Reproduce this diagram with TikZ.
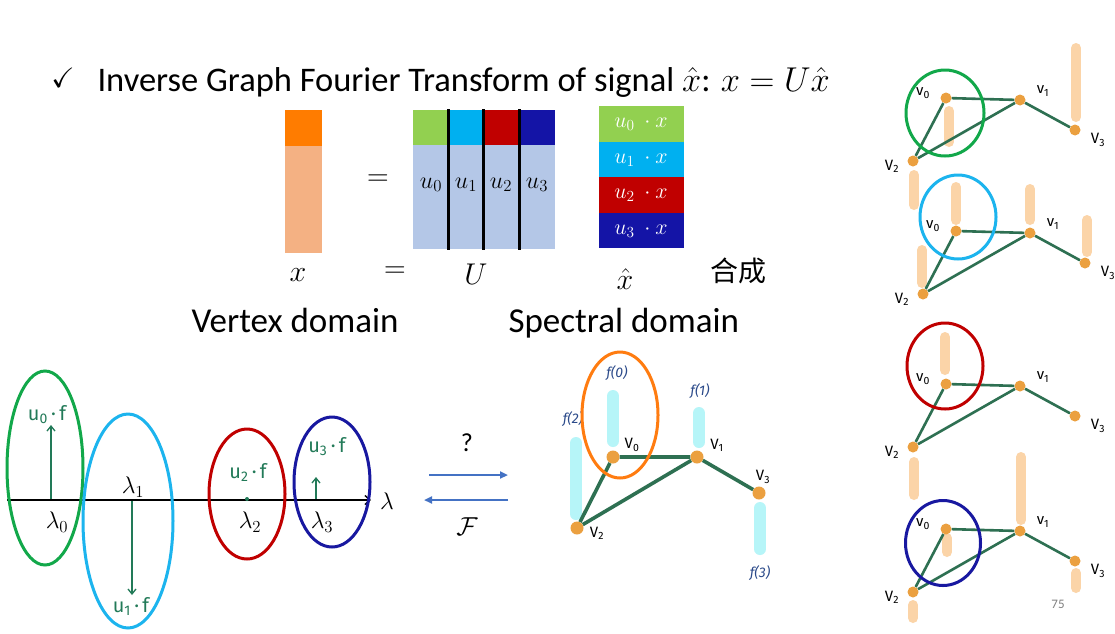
\RequirePackage{fix-cm}
\documentclass[tikz,border=0pt]{standalone}
\usepackage{fontspec}
\usepackage{amssymb}
\setmainfont{Carlito}
\newfontfamily\cjkfont{Noto Sans CJK SC}
\newfontfamily\handfont{Fira Sans}
\usetikzlibrary{arrows.meta}

\definecolor{xorange}{HTML}{FF7C00}
\definecolor{xpeach}{HTML}{F4B183}
\definecolor{ubody}{HTML}{B4C7E7}
\definecolor{cgreen}{HTML}{92D050}
\definecolor{ccyan}{HTML}{00B0F0}
\definecolor{cred}{HTML}{C00000}
\definecolor{cblue}{HTML}{1414A6}
\definecolor{ringgreen}{HTML}{12A84A}
\definecolor{ringcyan}{HTML}{1CB4EE}
\definecolor{ringred}{HTML}{C00000}
\definecolor{ringblue}{HTML}{1818A0}
\definecolor{ringorange}{HTML}{FF7C10}
\definecolor{hand}{HTML}{227A58}
\definecolor{edgegreen}{HTML}{2E7052}
\definecolor{dotorange}{HTML}{EBA040}
\definecolor{barcyan}{HTML}{B6F5F8}
\definecolor{barpeach}{HTML}{FBD4A8}
\definecolor{fblue}{HTML}{2B4A8A}
\definecolor{arrowblue}{HTML}{4472C4}

\pgfdeclarelayer{background}
\pgfsetlayers{background,main}

\tikzset{
  cell/.style={text=white, font=\fontsize{22}{22}\selectfont},
  ulabel/.style={font=\fontsize{24}{24}\selectfont},
  mathlbl/.style={font=\fontsize{30}{30}\selectfont},
  caption/.style={font=\fontsize{35}{35}\selectfont, anchor=base west},
  ring/.style={line width=3pt},
  handlbl/.style={text=hand, font=\handfont\fontsize{20}{20}\selectfont},
  lamlbl/.style={font=\fontsize{24}{24}\selectfont},
  spike/.style={hand, line width=1.3pt, -{Straight Barb[length=5pt,width=8pt]}},
  mdot/.style={circle, fill=dotorange, minimum size=13pt, inner sep=0pt},
  rdot/.style={circle, fill=dotorange, minimum size=11pt, inner sep=0pt},
  medge/.style={edgegreen, line width=3.6pt},
  redge/.style={edgegreen, line width=2.6pt},
  mbar/.style={barcyan, line width=12pt, line cap=round},
  rbar/.style={barpeach, line width=10pt, line cap=round},
  vlbl/.style={font=\handfont\fontsize{15}{15}\selectfont},
  flbl/.style={text=fblue, font=\handfont\itshape\fontsize{14}{14}\selectfont},
  fourier/.style={arrowblue, line width=2pt, -{Triangle[length=8pt,width=7pt]}},
}

% one small vertex graph: #1 name prefix, (#2,#3) position of v0
\newcommand{\vgraph}[3]{%
  \begin{scope}[shift={(#2,#3)}]
    \node[rdot] (#1v0) at (0,0) {};
    \node[rdot] (#1v1) at (74,2) {};
    \node[rdot] (#1v3) at (129,32) {};
    \node[rdot] (#1v2) at (-33,63) {};
    \begin{pgfonlayer}{background}
      \draw[redge] (#1v0) -- (#1v1) (#1v0) -- (#1v2)
                   (#1v1) -- (#1v2) (#1v1) -- (#1v3);
    \end{pgfonlayer}
    \node[vlbl] (#1l0) at (-23,-5) {v\textsubscript{0}};
    \node[vlbl] (#1l1) at (97,-7) {v\textsubscript{1}};
    \node[vlbl] (#1l3) at (152,42) {V\textsubscript{3}};
    \node[vlbl] (#1l2) at (-54,68) {V\textsubscript{2}};
  \end{scope}}

\begin{document}
\begin{tikzpicture}[x=1pt,y=-1pt]
\useasboundingbox (0,0) rectangle (1115,633);
\begin{pgfonlayer}{background}
  \fill[white] (0,0) rectangle (1115,633);
\end{pgfonlayer}

% ---------- heading ----------
\node[font=\fontsize{28}{28}\selectfont] (tick) at (63,78) {$\checkmark$};
\node[caption, font=\fontsize{34.5}{34.5}\selectfont] (title) at (94,91)
  {Inverse Graph Fourier Transform of signal $\hat{x}$: $x = U\hat{x}$};

% ---------- x = U x-hat ----------
\fill[xorange] (285,110) rectangle (322,146);
\fill[xpeach] (285,146) rectangle (322,253);

\node[mathlbl] (eqtop) at (378,180) {$=$};

\fill[ubody] (413,145) rectangle (555,249);
\fill[cgreen] (413,110) rectangle (448,145);
\fill[ccyan]  (448,110) rectangle (483,145);
\fill[cred]   (483,110) rectangle (519,145);
\fill[cblue]  (519,110) rectangle (555,145);
\foreach \cx in {448,483,519}
  \draw[black, line width=3pt] (\cx,109) -- (\cx,250);
\node[ulabel] (u0) at (431,185) {$u_0$};
\node[ulabel] (u1) at (466,185) {$u_1$};
\node[ulabel] (u2) at (501,185) {$u_2$};
\node[ulabel] (u3) at (537,185) {$u_3$};

\fill[cgreen] (599,106)   rectangle (684,141.5);
\fill[ccyan]  (599,141.5) rectangle (684,177);
\fill[cred]   (599,177)   rectangle (684,212.5);
\fill[cblue]  (599,212.5) rectangle (684,248);
\node[cell] (r0) at (641,124) {$u_0\ \cdot x$};
\node[cell] (r1) at (641,160) {$u_1\ \cdot x$};
\node[cell] (r2) at (641,195) {$u_2\ \cdot x$};
\node[cell] (r3) at (641,231) {$u_3\ \cdot x$};

\node[mathlbl] (lx)   at (298,275) {$x$};
\node[mathlbl] (leq)  at (395,272) {$=$};
\node[mathlbl] (lU)   at (476,274) {$U$};
\node[mathlbl] (lxh)  at (625,279) {$\hat{x}$};
\node[font=\cjkfont\fontsize{28}{28}\selectfont] (synth) at (738,271) {合成};

\node[caption] (vdom) at (188,332) {Vertex domain};
\node[caption] (sdom) at (505,332) {Spectral domain};

% ---------- spectrum ----------
\coordinate (ax0) at (7,500);
\coordinate (ax1) at (371,500);
\draw[black, line width=1.4pt, -{Straight Barb[length=5pt,width=9pt]}] (ax0) -- (ax1);
\node[lamlbl] (lam) at (387,501) {$\lambda$};

\draw[ringgreen, ring] (45,468) ellipse [x radius=38, y radius=97];
\draw[ringcyan, ring] (128,521) ellipse [x radius=45, y radius=107];
\draw[ringred, ring] (247,494) ellipse [x radius=38, y radius=65];
\draw[ringblue, ring] (332,482) ellipse [x radius=38, y radius=65];

\coordinate (s0) at (51,499);  \coordinate (t0) at (51,425);
\coordinate (s1) at (132,501); \coordinate (t1) at (132,595);
\coordinate (s3) at (316,499); \coordinate (t3) at (316,477);
\draw[spike] (s0) -- (t0);
\draw[spike] (s1) -- (t1);
\draw[spike] (s3) -- (t3);
\node[circle, fill=hand, inner sep=0pt, minimum size=4pt] (d2) at (247,499) {};

\node[handlbl] (f0) at (47,415) {u\textsubscript{0}\,·\,f};
\node[handlbl] (f1) at (131,606) {u\textsubscript{1}\,·\,f};
\node[handlbl] (f2) at (248,472) {u\textsubscript{2}\,·\,f};
\node[handlbl] (f3) at (327,447) {u\textsubscript{3}\,·\,f};

\node[lamlbl] (l0) at (57,522) {$\lambda_0$};
\node[lamlbl] (l1) at (133,487) {$\lambda_1$};
\node[lamlbl] (l2) at (250,522) {$\lambda_2$};
\node[lamlbl] (l3) at (322,522) {$\lambda_3$};

% ---------- transform arrows ----------
\node[font=\fontsize{26}{26}\selectfont] (qm) at (467,443) {?};
\coordinate (fa) at (429,475); \coordinate (fb) at (508,475);
\coordinate (ga) at (508,500); \coordinate (gb) at (424,500);
\draw[fourier] (fa) -- (fb);
\draw[fourier] (ga) -- (gb);
\node[font=\fontsize{26}{26}\selectfont] (calF) at (467,527) {$\mathcal{F}$};

% ---------- signal on the graph ----------
\begin{pgfonlayer}{background}
  \draw[mbar] (613,396) -- (613,441);
  \draw[mbar] (699,413) -- (699,442);
  \draw[mbar] (576,443) -- (576,514);
  \draw[mbar] (760,508) -- (760,549);
\end{pgfonlayer}
\node[mdot] (m0) at (613,457) {};
\node[mdot] (m1) at (697,457) {};
\node[mdot] (m3) at (759,493) {};
\node[mdot] (m2) at (577,528) {};
\begin{pgfonlayer}{background}
  \draw[medge] (m0) -- (m1) (m0) -- (m2) (m1) -- (m2) (m1) -- (m3);
\end{pgfonlayer}
\node[vlbl] (ml0) at (632,445) {V\textsubscript{0}};
\node[vlbl] (ml1) at (717,445) {V\textsubscript{1}};
\node[vlbl] (ml3) at (763,477) {V\textsubscript{3}};
\node[vlbl] (ml2) at (597,533) {V\textsubscript{2}};
\node[flbl] (mf0) at (617,373) {f(0)};
\node[flbl] (mf1) at (700,391) {f(1)};
\node[flbl] (mf2) at (573,419) {f(2)};
\node[flbl] (mf3) at (760,573) {f(3)};
\draw[ringorange, ring] (620,415) ellipse [x radius=38, y radius=63];

% ---------- the four eigenvectors on the graph ----------
\begin{pgfonlayer}{background}
  % u0
  \draw[rbar] (949,111) -- (949,142);
  \draw[rbar] (1076,48) -- (1076,117);
  \draw[rbar] (914,175) -- (914,205);
  % u1
  \draw[rbar] (956,187) -- (956,220);
  \draw[rbar] (1030,189) -- (1030,220);
  \draw[rbar] (1087,220) -- (1087,252);
  \draw[rbar] (922,250) -- (922,283);
  % u2
  \draw[rbar] (945,337) -- (945,370);
  \draw[rbar] (914,462) -- (914,495);
  % u3
  \draw[rbar] (947,538) -- (947,552);
  \draw[rbar] (1021,457) -- (1021,520);
  \draw[rbar] (1076,573) -- (1076,588);
  \draw[rbar] (913,605) -- (913,618);
\end{pgfonlayer}
\vgraph{ga}{946}{98}
\vgraph{gb}{956}{231}
\vgraph{gc}{946}{384}
\vgraph{gd}{946}{529}
\draw[ringgreen, ring] (945,113) ellipse [x radius=39, y radius=43];
\draw[ringcyan, ring] (958,217) ellipse [x radius=38, y radius=42];
\draw[ringred, ring] (945,366) ellipse [x radius=38, y radius=43];
\draw[ringblue, ring] (943,543) ellipse [x radius=37.5, y radius=42.5];

\node[text=gray, font=\fontsize{13}{13}\selectfont] (pageno) at (1058,604) {75};
\end{tikzpicture}
\end{document}
